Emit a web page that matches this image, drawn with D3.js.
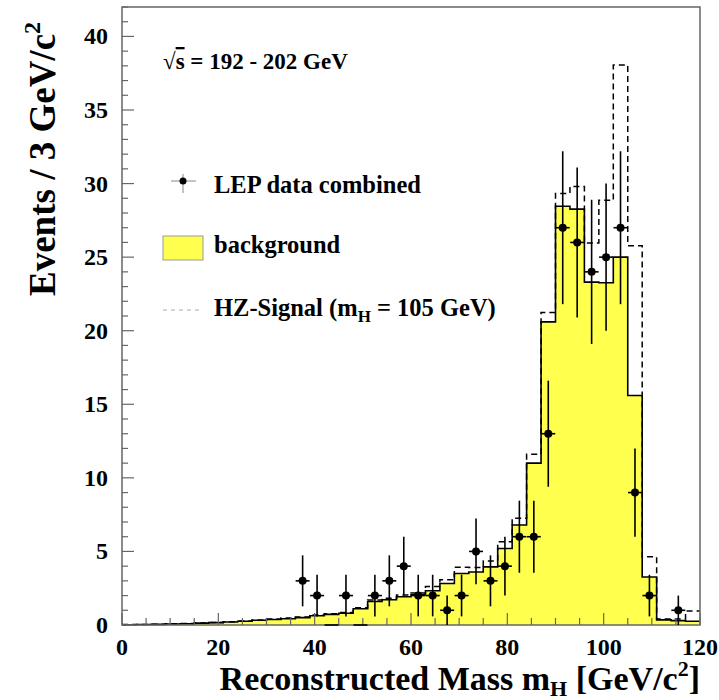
<!DOCTYPE html>
<html>
<head>
<meta charset="utf-8">
<script src="https://cdn.jsdelivr.net/npm/d3@7"></script>
<style>
  body { margin: 0; background: #fff; }
  svg text { font-family: "Liberation Serif", "Times New Roman", Tinos, "DejaVu Serif", serif; font-weight: 700; }
</style>
</head>
<body>
<div id="chart"></div>
<script>
// Bin low edges (3 GeV bins, 0-120 GeV)
const binLow = d3.range(0, 120, 3);
const binWidth = 3;

// Expected background per bin
const background = [
  0.02, 0.03, 0.04, 0.07, 0.09, 0.13, 0.16, 0.2, 0.25, 0.32,
  0.37, 0.42, 0.5, 0.63, 0.72, 0.8, 1.1, 1.6, 1.72, 1.92,
  2.06, 2.33, 2.82, 3.5, 3.6, 3.95, 5.2, 6.8, 11.0, 20.6,
  28.46, 28.26, 23.3, 23.26, 25.0, 15.6, 3.26, 0.35, 0.3, 0.25
];

// HZ signal (mH = 105 GeV) stacked on the background
const signal = [
  0.01, 0.01, 0.01, 0.01, 0.01, 0.01, 0.01, 0.02, 0.02, 0.02,
  0.04, 0.05, 0.05, 0.05, 0.05, 0.05, 0.08, 0.1, 0.1, 0.12,
  0.12, 0.28, 0.26, 0.42, 0.3, 0.4, 0.45, 0.45, 0.6, 0.64,
  0.87, 1.54, 2.66, 5.6, 13.06, 10.17, 1.38, 0.05, 0.1, 0.7
];

// LEP data combined (null = not drawn)
const dataCounts = [
  null, null, null, null, null, null, null, null, null, null,
  null, null, 3, 2, 0, 2, 0, 2, 3, 4,
  2, 2, 1, 2, 5, 3, 4, 6, 6, 13,
  27, 26, 24, 25, 27, 9, 2, null, 1, null
];

const xTicks = [0, 20, 40, 60, 80, 100, 120];
const yTicks = [0, 5, 10, 15, 20, 25, 30, 35, 40];

const W = 719, H = 700;
const margin = { top: 7, right: 19, bottom: 75, left: 122 };
const width = W - margin.left - margin.right;
const height = H - margin.top - margin.bottom;

const svg = d3.select("#chart").append("svg")
  .attr("width", W).attr("height", H);

const g = svg.append("g")
  .attr("transform", `translate(${margin.left},${margin.top})`);

const x = d3.scaleLinear().domain([0, 120]).range([0, width]);
const y = d3.scaleLinear().domain([0, 42]).range([height, 0]);

// step histograms
const bins = binLow.map((lo, i) => ({ lo, bg: background[i], tot: background[i] + signal[i] }));
const stepPts = key => bins.map(b => [b.lo, b[key]]).concat([[120, bins[bins.length - 1][key]]]);

const area = d3.area()
  .x(d => x(d[0])).y0(y(0)).y1(d => y(d[1]))
  .curve(d3.curveStepAfter);
const line = d3.line()
  .x(d => x(d[0])).y(d => y(d[1]))
  .curve(d3.curveStepAfter);

g.append("path").datum(stepPts("bg"))
  .attr("d", area).attr("fill", "#ffff4d");

g.append("path").datum(stepPts("tot"))
  .attr("d", line).attr("fill", "none")
  .attr("stroke", "#000").attr("stroke-width", 1.5)
  .attr("stroke-dasharray", "6,4");

g.append("path").datum(stepPts("bg"))
  .attr("d", line).attr("fill", "none")
  .attr("stroke", "#000").attr("stroke-width", 1.6);

// frame
g.append("rect").attr("width", width).attr("height", height)
  .attr("fill", "none").attr("stroke", "#666").attr("stroke-width", 1.5);

// x ticks (inside, pointing up)
const xMinor = d3.range(0, 121, 5);
g.selectAll(".xt").data(xMinor).join("line")
  .attr("x1", d => x(d)).attr("x2", d => x(d))
  .attr("y1", height).attr("y2", d => height - (d % 20 === 0 ? 12 : 7))
  .attr("stroke", "#666").attr("stroke-width", 1.2);

// y ticks (inside, pointing right)
const yMinor = d3.range(0, 43, 1);
g.selectAll(".yt").data(yMinor).join("line")
  .attr("x1", 0).attr("x2", d => (d % 5 === 0 ? 12 : 6))
  .attr("y1", d => y(d)).attr("y2", d => y(d))
  .attr("stroke", "#666").attr("stroke-width", 1.2);

// tick labels
g.selectAll(".xl").data(xTicks).join("text")
  .attr("x", d => x(d)).attr("y", height + 30)
  .attr("text-anchor", "middle").attr("font-size", 24)
  .text(d => d);

g.selectAll(".yl").data(yTicks).join("text")
  .attr("x", -14).attr("y", d => y(d) + 8)
  .attr("text-anchor", "end").attr("font-size", 24)
  .text(d => d);

// data points with errors
const pts = dataCounts.map((c, i) => ({ c, xc: binLow[i] + binWidth / 2 })).filter(d => d.c !== null);
const dg = g.append("g");
dg.selectAll(".ev").data(pts.filter(d => d.c > 0)).join("line")
  .attr("x1", d => x(d.xc)).attr("x2", d => x(d.xc))
  .attr("y1", d => y(d.c + Math.sqrt(d.c))).attr("y2", d => y(Math.max(0, d.c - Math.sqrt(d.c))))
  .attr("stroke", "#000").attr("stroke-width", 1.6);
dg.selectAll(".eh").data(pts).join("line")
  .attr("x1", d => x(d.xc - 1.45)).attr("x2", d => x(d.xc + 1.45))
  .attr("y1", d => y(d.c)).attr("y2", d => y(d.c))
  .attr("stroke", "#000").attr("stroke-width", 1.6);
dg.selectAll("circle").data(pts.filter(d => d.c > 0)).join("circle")
  .attr("cx", d => x(d.xc)).attr("cy", d => y(d.c)).attr("r", 4)
  .attr("fill", "#000");

// energy label
const sq = svg.append("text").attr("x", 163).attr("y", 69).attr("font-size", 23);
sq.append("tspan").text("√");
sq.append("tspan").style("text-decoration", "overline").text("s");
sq.append("tspan").text(" = 192 - 202 GeV");

// legend
const lg = svg.append("g");
lg.append("line").attr("x1", 171).attr("x2", 196).attr("y1", 181).attr("y2", 181)
  .attr("stroke", "#888").attr("stroke-width", 1);
lg.append("line").attr("x1", 183).attr("x2", 183).attr("y1", 174).attr("y2", 193)
  .attr("stroke", "#888").attr("stroke-width", 1);
lg.append("circle").attr("cx", 183).attr("cy", 181).attr("r", 3.5).attr("fill", "#000");
lg.append("text").attr("x", 214).attr("y", 193).attr("font-size", 24.5).text("LEP data combined");

lg.append("rect").attr("x", 163).attr("y", 236).attr("width", 40).attr("height", 24)
  .attr("fill", "#ffff4d").attr("stroke", "#999").attr("stroke-width", 1);
lg.append("text").attr("x", 214).attr("y", 253).attr("font-size", 24.5).text("background");

lg.append("line").attr("x1", 163).attr("x2", 203).attr("y1", 310).attr("y2", 310)
  .attr("stroke", "#aaa").attr("stroke-width", 1).attr("stroke-dasharray", "4,4");
const hz = lg.append("text").attr("x", 214).attr("y", 316).attr("font-size", 24.5);
hz.append("tspan").text("HZ-Signal (m");
hz.append("tspan").attr("dy", 6).attr("font-size", 17).text("H");
hz.append("tspan").attr("dy", -6).text(" = 105 GeV)");

// axis titles
const xt = svg.append("text").attr("x", 700).attr("y", 690)
  .attr("text-anchor", "end").attr("font-size", 34);
xt.append("tspan").text("Reconstructed Mass m");
xt.append("tspan").attr("dy", 6).attr("font-size", 22).text("H");
xt.append("tspan").attr("dy", -6).text(" [GeV/c");
xt.append("tspan").attr("dy", -14).attr("font-size", 22).text("2");
xt.append("tspan").attr("dy", 14).text("]");

const yt = svg.append("text")
  .attr("transform", "translate(55,296) rotate(-90)")
  .attr("text-anchor", "start").attr("font-size", 37);
yt.append("tspan").text("Events / 3 GeV/c");
yt.append("tspan").attr("dy", -15).attr("font-size", 24).text("2");
</script>
</body>
</html>
